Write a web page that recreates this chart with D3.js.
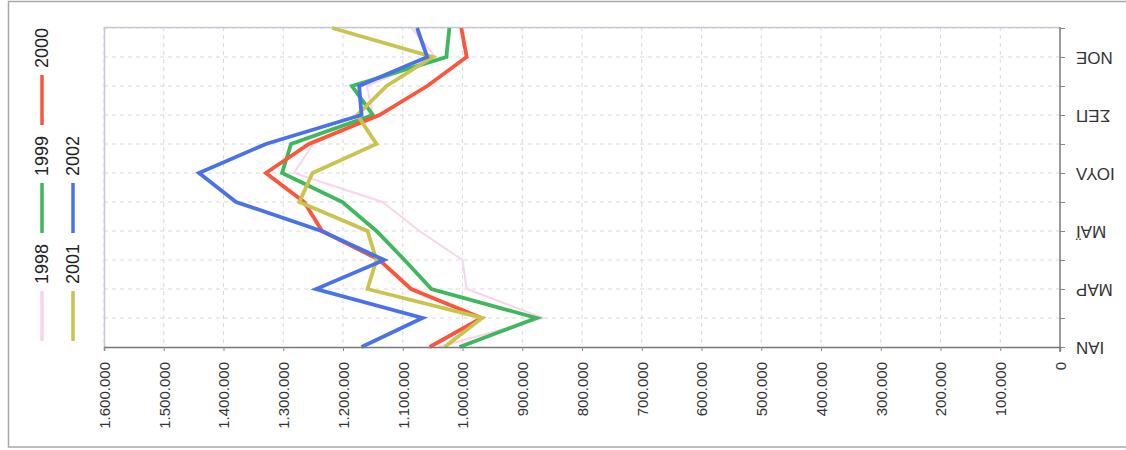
<!DOCTYPE html>
<html>
<head>
<meta charset="utf-8">
<script src="https://cdn.jsdelivr.net/npm/d3@7"></script>
<style>
  html, body { margin: 0; padding: 0; background: #fff; }
  svg { display: block; }
  text { font-family: "Liberation Sans", Arial, sans-serif; }
</style>
</head>
<body>
<svg id="chart" width="1126" height="450"></svg>
<script>
// Monthly totals per year (Greek month abbreviations)
const months = ["ΙΑΝ", "ΦΕΒ", "ΜΑΡ", "ΑΠΡ", "ΜΑΪ", "ΙΟΥΝ", "ΙΟΥΛ", "ΑΥΓ", "ΣΕΠ", "ΟΚΤ", "ΝΟΕ", "ΔΕΚ"];
const labelledMonths = ["ΙΑΝ", "ΜΑΡ", "ΜΑΪ", "ΙΟΥΛ", "ΣΕΠ", "ΝΟΕ"];
const years = ["1998", "1999", "2000", "2001", "2002"];

const v1998 = [1040000, 865000, 993000, 1000000, 1072000, 1134000, 1282000, 1250000, 1150000, 1160000, 1045000, 1085000];
const v1999 = [1005000, 876000, 1052000, 1097000, 1144000, 1201000, 1302000, 1287000, 1150000, 1185000, 1027000, 1022000];
const v2000 = [1055000, 968000, 1086000, 1139000, 1235000, 1265000, 1329000, 1257000, 1139000, 1059000, 993000, 1002000];
const v2001 = [1030000, 967000, 1159000, 1144000, 1159000, 1273000, 1251000, 1144000, 1176000, 1127000, 1050000, 1218000];
const v2002 = [1169000, 1067000, 1245000, 1131000, 1236000, 1379000, 1441000, 1329000, 1169000, 1173000, 1059000, 1076000];

const valueTicks = [0, 100000, 200000, 300000, 400000, 500000, 600000, 700000, 800000,
                    900000, 1000000, 1100000, 1200000, 1300000, 1400000, 1500000, 1600000];

const seriesValues = [v1998, v1999, v2000, v2001, v2002];
const colors = ["#fad4ea", "#3db85c", "#fb553c", "#c9c350", "#4a72e6"];
const widths = [2, 3.8, 3.8, 3.8, 3.8];

const svg = d3.select("#chart");

// Value axis runs right-to-left along the bottom, months run bottom-to-top on the right
const plot = { left: 104, right: 1060, top: 27, bottom: 347 };
const x = d3.scaleLinear().domain([0, 1600000]).range([plot.right, plot.left]);
const y = d3.scalePoint().domain(months).range([plot.bottom, 28]);

const fmt = v => d3.format(",")(v).replace(/,/g, ".");

// outer frame
svg.append("rect")
  .attr("x", 8.5).attr("y", 1.5).attr("width", 1130).attr("height", 445.5)
  .attr("fill", "none").attr("stroke", "#a8a8a8").attr("stroke-width", 1.5);

// grid
const grid = svg.append("g").attr("stroke", "#d9d9d9").attr("stroke-width", 1)
  .attr("stroke-dasharray", "4,4");
grid.selectAll("line.v").data(valueTicks.slice(1)).join("line")
  .attr("x1", d => x(d)).attr("x2", d => x(d))
  .attr("y1", plot.top).attr("y2", plot.bottom);
grid.selectAll("line.h").data(months.slice(1)).join("line")
  .attr("x1", plot.left).attr("x2", plot.right)
  .attr("y1", d => y(d)).attr("y2", d => y(d));

// plot border (top and left)
svg.append("path")
  .attr("d", `M${plot.left + 0.5},${plot.bottom}V${plot.top + 0.5}H${plot.right}`)
  .attr("fill", "none").attr("stroke", "#c3c9d6").attr("stroke-width", 1.5);

// series lines
const line = d3.line().x(d => x(d)).y((d, i) => y(months[i]));
svg.append("g").selectAll("path").data(seriesValues).join("path")
  .attr("d", d => line(d))
  .attr("fill", "none")
  .attr("stroke", (d, i) => colors[i])
  .attr("stroke-width", (d, i) => widths[i])
  .attr("stroke-linejoin", "miter");

// bottom value axis
const xAxis = d3.axisBottom(x).tickValues(valueTicks).tickFormat(fmt).tickSize(4).tickPadding(0);
const gx = svg.append("g").attr("transform", `translate(0,${plot.bottom})`).call(xAxis);
gx.select(".domain").attr("stroke", "#777").attr("stroke-width", 1.5);
gx.selectAll(".tick line").attr("stroke", "#888");
gx.selectAll(".tick text")
  .attr("font-size", 15).attr("fill", "#333")
  .attr("text-anchor", "end")
  .attr("transform", "translate(0,15) rotate(-90)")
  .attr("x", 0).attr("y", 0).attr("dy", "0.35em");

// right month axis
const yAxis = d3.axisRight(y).tickSize(5).tickPadding(0)
  .tickFormat(d => labelledMonths.includes(d) ? d : "");
const gy = svg.append("g").attr("transform", `translate(${plot.right},0)`).call(yAxis);
gy.select(".domain").attr("stroke", "#777").attr("stroke-width", 1.5)
  .attr("d", `M0,${plot.top}V${plot.bottom + 5}`);
gy.selectAll(".tick line").attr("stroke", "#888");
gy.selectAll(".tick text")
  .attr("font-size", 17).attr("fill", "#333")
  .attr("text-anchor", "end")
  .attr("x", 0).attr("y", 0).attr("dy", "0.35em")
  .attr("transform", "translate(16,0) rotate(180)");

// legend, two columns reading bottom-to-top
const legend = svg.append("g");
years.forEach((yr, i) => {
  const col = i < 3 ? 0 : 1;
  const row = i < 3 ? i : i - 3;
  const cx = col === 0 ? 42 : 73;
  const base = 341 - row * 108;
  legend.append("line")
    .attr("x1", cx).attr("x2", cx)
    .attr("y1", base).attr("y2", base - 50)
    .attr("stroke", colors[i]).attr("stroke-width", 3.5);
  legend.append("text")
    .attr("transform", `translate(${cx},${base - 57}) rotate(-90)`)
    .attr("dy", "0.35em")
    .attr("font-size", 18).attr("fill", "#222")
    .text(yr);
});
</script>
</body>
</html>
